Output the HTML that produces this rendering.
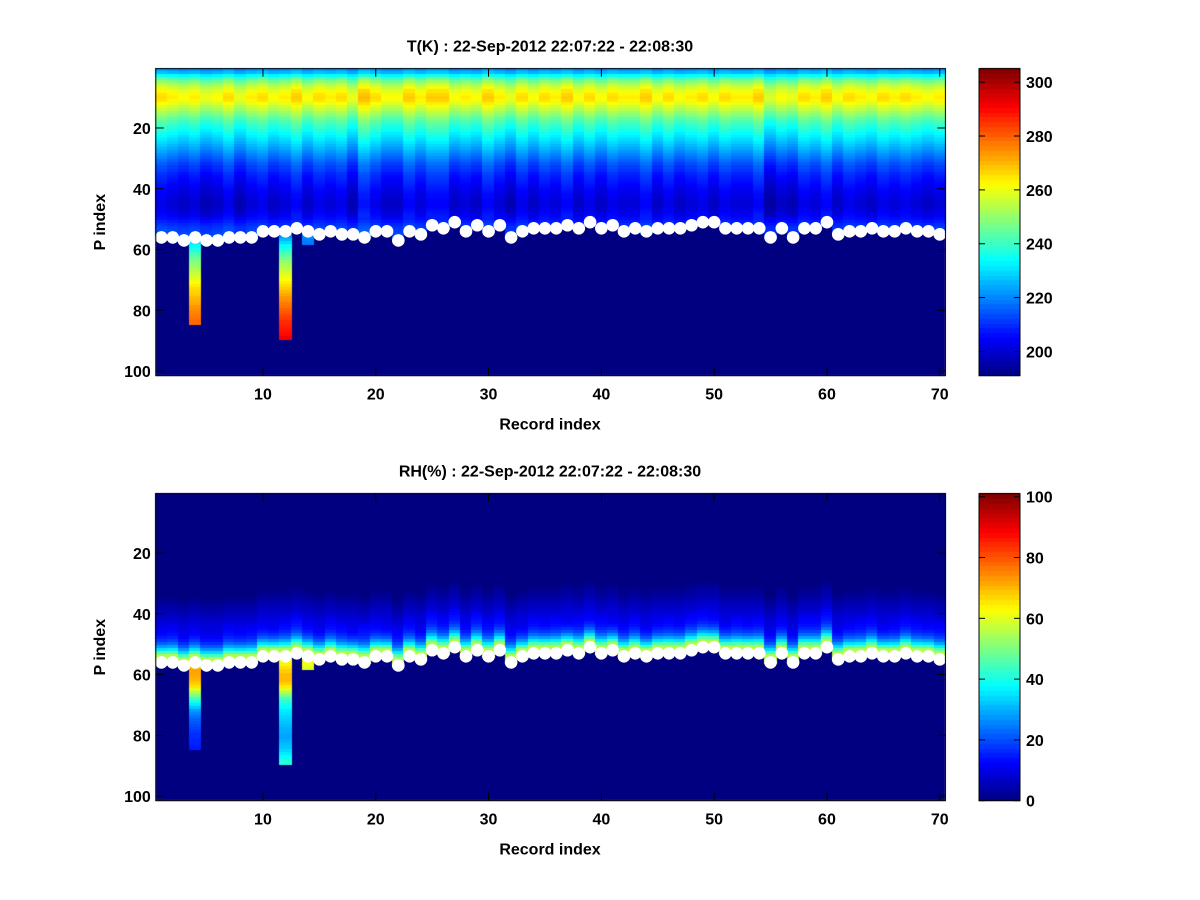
<!DOCTYPE html>
<html><head><meta charset="utf-8"><style>
body{margin:0;background:#fff;width:1200px;height:900px;overflow:hidden;position:relative;font-family:"Liberation Sans",sans-serif}
canvas{position:absolute;left:0;top:0}
svg{position:absolute;left:0;top:0}
text{font-family:"Liberation Sans",sans-serif;font-weight:bold;font-size:16px;fill:#000}
</style></head><body>
<canvas id="cv" width="1200" height="900"></canvas>
<svg id="sv" width="1200" height="900"></svg>
<script>
// ---- data ----
const surface=[56,56,57,56,57,57,56,56,56,54,54,54,53,54,55,54,55,55,56,54,54,57,54,55,52,53,51,54,52,54,52,56,54,53,53,53,52,53,51,53,52,54,53,54,53,53,53,52,51,51,53,53,53,53,56,53,56,53,53,51,55,54,54,53,54,54,53,54,54,55];
const tProfile=[222,226,234,242,248,253,257,261,263,264,263,260,257,254,251,248,245,242,240,238,236,234,232,230,228,226,224,222,220,218,216,214,212,211,209,208,207,206,205,204,203,202,202,201,201,201,202,203,204,206,208,210,212,213,214,215,216,217];
const tColOffset=[1,0,-1,0,-2,-1,1,-2,0,1,-1,0,2,-1,1,0,1,-2,3,1,-1,-1,2,0,2,2,-1,0,-1,2,0,-2,1,-1,1,0,2,-1,1,-1,1,0,0,2,-1,1,-1,0,1,-1,1,0,0,2,-3,-1,-2,1,0,2,-1,1,0,-1,1,0,1,0,-1,0];
const rhRel=[57,57,55,45,35,28,22,18,15,13,12,11,10,9,8,7,6,5,4,3,2,1];
const rhColOffset=[0,1,-1,0,-1,-1,1,0,1,0,-1,1,2,0,-1,1,1,-1,2,0,-1,1,1,-1,2,1,2,0,2,1,1,0,-1,1,0,1,-1,1,0,1,-1,0,1,-1,0,1,0,1,1,0,-1,1,0,1,-1,0,-1,1,1,2,-1,0,1,1,-1,0,1,1,0,1];
const extraT={4:[57,[228,231,234,237,240,243,246,248,250,252,254,256,258,260,262,264,266,267,268,270,271,272,274,275,276,277,278,279]],
 12:[55,[218,222,226,230,234,238,241,244,247,250,252,254,256,258,260,262,264,266,268,270,272,274,275,277,278,280,281,283,284,286,287,288,289,290,292]],
 14:[55,[222,221,220,219]]};
const extraRH={4:[57,[68,70,72,72,71,70,68,66,60,55,50,45,40,36,32,28,26,24,22,21,20,19,18,17,17,16,16,15]],
 12:[55,[60,62,64,66,68,70,70,70,68,65,60,55,50,45,42,40,38,36,35,34,33,32,31,30,30,29,29,30,31,32,34,36,38,40,42]],
 14:[55,[60,62,62,60]]};
const xTicks=[10,20,30,40,50,60,70];
const yTicks=[20,40,60,80,100];
const tCbTicks=[200,220,240,260,280,300];
const rhCbTicks=[0,20,40,60,80,100];

// ---- geometry ----
const AX0=155.8, AX1=945.4, NC=70, NR=101;
const panels=[{top:68.7,bot:375.7,title:"T(K) : 22-Sep-2012 22:07:22 - 22:08:30",vmin:191,vmax:305,cb:tCbTicks,kind:'t'},
              {top:493.7,bot:800.7,title:"RH(%) : 22-Sep-2012 22:07:22 - 22:08:30",vmin:0,vmax:101,cb:rhCbTicks,kind:'rh'}];
function xs(v){return AX0+(v-0.5)*(AX1-AX0)/NC;}
function ysF(p){return v=>p.top+(v-0.5)*(p.bot-p.top)/NR;}
function jet(t){t=Math.max(0,Math.min(1,t));
 const r=Math.max(0,Math.min(1,1.5-Math.abs(4*t-3))),g=Math.max(0,Math.min(1,1.5-Math.abs(4*t-2))),b=Math.max(0,Math.min(1,1.5-Math.abs(4*t-1)));
 return `rgb(${Math.round(r*255)},${Math.round(g*255)},${Math.round(b*255)})`;}
function value(kind,c,r){
 const s=surface[c-1];
 const ex=(kind==='t'?extraT:extraRH)[c];
 if(ex && r>=ex[0] && r<ex[0]+ex[1].length) return ex[1][r-ex[0]];
 if(r>s) return null;
 if(kind==='t') return tProfile[r-1]+tColOffset[c-1]*(r>3&&r<50?2:1);
 const d=s-r; if(d>=rhRel.length) return 0;
 return Math.max(0,rhRel[d]+(rhRel[d]>=10&&d>2?rhColOffset[c-1]:0));
}
const cv=document.getElementById('cv'),ctx=cv.getContext('2d');
const sv=document.getElementById('sv');const NS='http://www.w3.org/2000/svg';
function el(tag,attrs,txt){const e=document.createElementNS(NS,tag);for(const k in attrs)e.setAttribute(k,attrs[k]);if(txt!==undefined)e.textContent=txt;sv.appendChild(e);return e;}
panels.forEach((p,pi)=>{
 const ys=ysF(p);
 ctx.fillStyle=jet(0);ctx.fillRect(AX0,p.top,AX1-AX0,p.bot-p.top);
 for(let c=1;c<=NC;c++)for(let r=1;r<=NR;r++){
  const v=value(p.kind,c,r); if(v===null)continue;
  ctx.fillStyle=jet((v-p.vmin)/(p.vmax-p.vmin));
  const x0=xs(c-0.5),x1=xs(c+0.5),y0=ys(r-0.5),y1=ys(r+0.5);
  ctx.fillRect(Math.floor(x0),Math.floor(y0),Math.ceil(x1)-Math.floor(x0),Math.ceil(y1)-Math.floor(y0));
 }
 const CB0=979,CB1=1020;
 for(let i=0;i<64;i++){ctx.fillStyle=jet((i+0.5)/64);const y0=p.bot-(i+1)*(p.bot-p.top)/64;ctx.fillRect(CB0,Math.floor(y0),CB1-CB0,Math.ceil((p.bot-p.top)/64)+1);}
 surface.forEach((s,i)=>{const d=el('circle',{cx:xs(i+1),cy:ys(s),r:6.3,fill:'#fff'});
  
  });
 const box=el('rect',{x:AX0,y:p.top,width:AX1-AX0,height:p.bot-p.top,fill:'none',stroke:'#000','stroke-width':1});
 
 xTicks.forEach(t=>{const x=xs(t);
  el('line',{x1:x,x2:x,y1:p.bot,y2:p.bot-8,stroke:'#000'});el('line',{x1:x,x2:x,y1:p.top,y2:p.top+8,stroke:'#000'});
  const l=el('text',{x:x,y:p.bot+24,'text-anchor':'middle'},t);
  });
 yTicks.forEach(t=>{const y=ys(t);
  el('line',{x1:AX0,x2:AX0+8,y1:y,y2:y,stroke:'#000'});el('line',{x1:AX1,x2:AX1-8,y1:y,y2:y,stroke:'#000'});
  const l=el('text',{x:AX0-5,y:y+6,'text-anchor':'end'},t);
  });
 const ti=el('text',{x:550,y:p.top-17,'text-anchor':'middle'},p.title);
 
 const xl=el('text',{x:550,y:p.bot+54,'text-anchor':'middle'},'Record index');
 
 const cy=(p.top+p.bot)/2;
 const yl=el('text',{x:105,y:cy,'text-anchor':'middle',transform:`rotate(-90 105 ${cy})`},'P index');
 
 const cbb=el('rect',{x:CB0,y:p.top,width:CB1-CB0,height:p.bot-p.top,fill:'none',stroke:'#000'});
 
 p.cb.forEach(t=>{const y=p.bot-(t-p.vmin)/(p.vmax-p.vmin)*(p.bot-p.top);
  el('line',{x1:CB0,x2:CB0+6,y1:y,y2:y,stroke:'#000'});el('line',{x1:CB1,x2:CB1-6,y1:y,y2:y,stroke:'#000'});
  const l=el('text',{x:CB1+6,y:y+6,'text-anchor':'start'},t);
  });
});
</script>
</body></html>
